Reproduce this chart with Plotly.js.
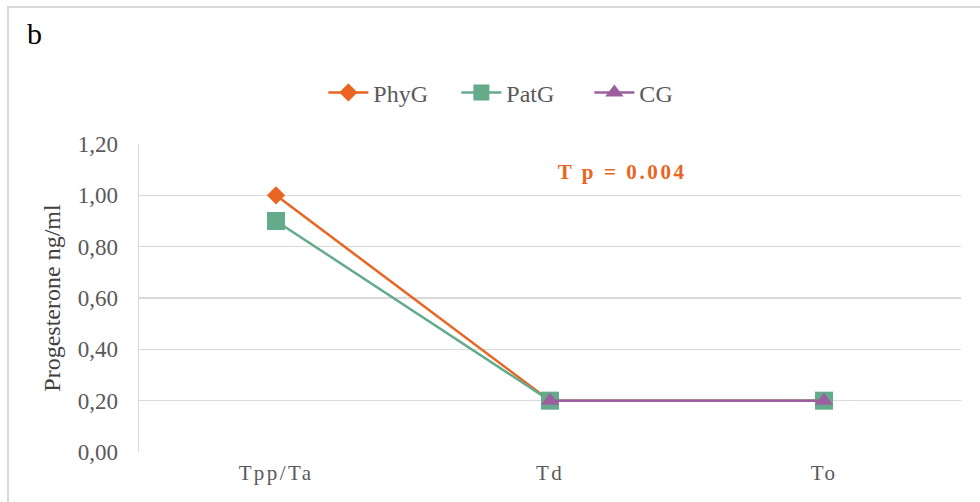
<!DOCTYPE html>
<html>
<head>
<meta charset="utf-8">
<script src="https://cdn.plot.ly/plotly-3.0.1.min.js"></script>
<style>
html,body{margin:0;padding:0;background:#fff;}
#wrap{position:relative;width:980px;height:502px;overflow:hidden;}
#chart{position:absolute;left:0;top:0;width:980px;height:502px;}
#frame{position:absolute;left:7px;top:6px;width:1000px;height:520px;border-left:2px solid #d9d9d9;border-top:2px solid #d9d9d9;pointer-events:none;}
.xtick text{letter-spacing:2.4px;}
g.annotation[data-index="1"] text{letter-spacing:2.6px;}
</style>
</head>
<body>
<div id="wrap"><div id="chart"></div><div id="frame"></div></div>
<script>
var categories = ["Tpp/Ta", "Td", "To"];
var phyG = [1.00, 0.20, 0.20];
var patG = [0.90, 0.20, 0.20];
var cG = [null, 0.20, 0.20];
var yTickVals = [0, 0.2, 0.4, 0.6, 0.8, 1.0, 1.2];
var yTickText = ["0,00", "0,20", "0,40", "0,60", "0,80", "1,00", "1,20"];

var serif = "Liberation Serif";
var traces = [
  {x: categories, y: phyG, name: "PhyG", type: "scatter", mode: "lines+markers",
   line: {color: "#EA6521", width: 2.5}, marker: {symbol: "diamond", size: 14, color: "#EA6521"}},
  {x: categories, y: patG, name: "PatG", type: "scatter", mode: "lines+markers",
   line: {color: "#63AB8B", width: 2.5}, marker: {symbol: "square", size: 18, color: "#63AB8B"}},
  {x: categories, y: cG, name: "CG", type: "scatter", mode: "lines+markers",
   line: {color: "#9B5E9F", width: 2.5}, marker: {symbol: "triangle-up", size: 16, color: "#9B5E9F"}}
];
var layout = {
  width: 980, height: 502,
  margin: {l: 139, r: 19, t: 144, b: 50, pad: 0},
  paper_bgcolor: "rgba(0,0,0,0)", plot_bgcolor: "#fff",
  font: {family: serif, size: 22, color: "#595959"},
  showlegend: true,
  legend: {orientation: "h", x: 0.467, xanchor: "center", y: 1.166, yanchor: "middle",
           font: {family: serif, size: 24, color: "#595959"}, itemwidth: 40, tracegroupgap: 0,
           entrywidth: 78, entrywidthmode: "pixels"},
  xaxis: {type: "category", range: [-0.5, 2.5], showgrid: false, zeroline: false,
          showline: false, ticks: "", tickfont: {family: serif, size: 21, color: "#595959"}, ticklabelstandoff: 6},
  yaxis: {range: [0, 1.2], tickvals: yTickVals, ticktext: yTickText, showgrid: true,
          gridcolor: "#d9d9d9", gridwidth: 1.5, zeroline: false, showline: true, linecolor: "#d9d9d9", linewidth: 1.5,
          ticks: "", tickfont: {family: serif, size: 23, color: "#595959"}, ticklabelstandoff: 15,
          title: {text: "Progesterone ng/ml", font: {family: serif, size: 24, color: "#404040"}, standoff: 10}},
  annotations: [
    {xref: "paper", yref: "paper", x: -0.1272, y: 1.36, xanchor: "center", yanchor: "middle", showarrow: false,
     text: "b", font: {family: serif, size: 30, color: "#000"}},
    {xref: "paper", yref: "paper", x: 0.5876, y: 0.909, xanchor: "center", yanchor: "middle", showarrow: false,
     text: "<b>T p = 0.004</b>", font: {family: serif, size: 21, color: "#EA6521"}}
  ]
};
Plotly.newPlot("chart", traces, layout, {displayModeBar: false, staticPlot: true});
</script>
</body>
</html>
